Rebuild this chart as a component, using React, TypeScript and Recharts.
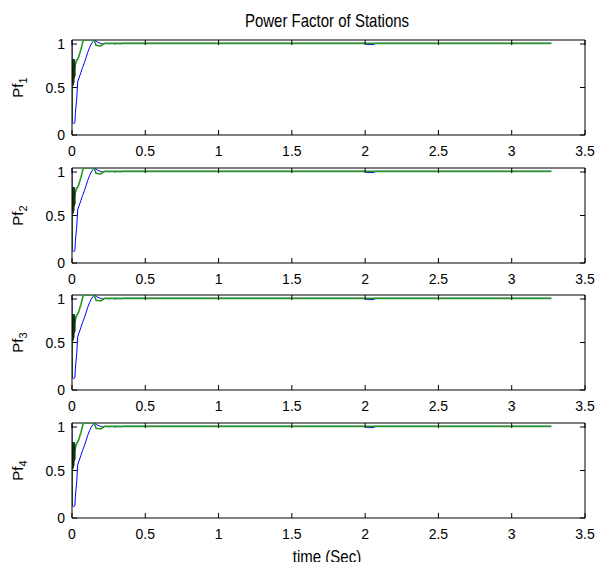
import { LineChart, Line, XAxis, YAxis, ReferenceLine } from 'recharts'

// time axis (sec) and power factor samples
const blueTime = [0, 0.004, 0.012, 0.02, 0.023, 0.032, 0.039, 0.05, 0.061, 0.072, 0.084, 0.095, 0.107, 0.12, 0.13, 0.142, 0.152, 0.164, 0.176, 0.186, 0.2, 0.215, 0.23, 0.25, 0.27, 0.3, 0.31, 0.33, 0.35, 2.0, 2.01, 2.06, 2.07, 3.27]
const bluePf = [1, 0.13, 0.12, 0.13, 0.23, 0.38, 0.56, 0.61, 0.66, 0.71, 0.76, 0.81, 0.87, 0.92, 0.955, 0.98, 1.0, 0.99, 0.975, 0.97, 0.962, 0.958, 0.965, 0.96, 0.965, 0.958, 0.965, 0.96, 0.965, 0.965, 0.952, 0.952, 0.965, 0.965]

const greenTime = [0, 0.002, 0.005, 0.008, 0.011, 0.014, 0.017, 0.02, 0.024, 0.027, 0.033, 0.039, 0.045, 0.053, 0.061, 0.069, 0.077, 0.152, 0.164, 0.18, 0.2, 0.22, 3.27]
const greenPf = [0.12, 0.55, 0.78, 0.6, 0.8, 0.65, 0.75, 0.7, 0.78, 0.76, 0.79, 0.8, 0.82, 0.86, 0.9, 0.95, 1.0, 1.0, 0.945, 0.94, 0.94, 0.965, 0.965]

const darkTime = [0.004, 0.006, 0.008, 0.01, 0.012, 0.014, 0.016, 0.018, 0.02]
const darkPf = [0.55, 0.8, 0.52, 0.78, 0.55, 0.8, 0.6, 0.76, 0.62]

const stations = ['1', '2', '3', '4']
const xTicks = [0, 0.5, 1, 1.5, 2, 2.5, 3, 3.5]
const yTicks = [0, 0.5, 1]

const zip = (ts: number[], vs: number[]) => ts.map((t, i) => ({ t, v: vs[i] }))
const blueData = zip(blueTime, bluePf)
const greenData = zip(greenTime, greenPf)
const darkData = zip(darkTime, darkPf)

const FONT = 'Liberation Sans, Arial, sans-serif'
const plotTops = [40, 168, 295, 423]
const PLOT_H = 95
const PLOT_L = 72
const PLOT_R = 585
const TICK = 5

// matlab style: inward ticks on both sides of the box
function XTick({ x, y, payload }: any) {
    return (
        <g>
            <line x1={x} y1={y} x2={x} y2={y - TICK} stroke="#000" />
            <line x1={x} y1={y - PLOT_H} x2={x} y2={y - PLOT_H + TICK} stroke="#000" />
            <text x={x} y={y + 21} textAnchor="middle" fontFamily={FONT} fontSize={14} fill="#000">
                {payload.value}
            </text>
        </g>
    )
}

function YTick({ x, y, payload }: any) {
    return (
        <g>
            <line x1={PLOT_L} y1={y} x2={PLOT_L + TICK} y2={y} stroke="#000" />
            <line x1={PLOT_R} y1={y} x2={PLOT_R - TICK} y2={y} stroke="#000" />
            <text x={x - 7} y={y + 5} textAnchor="end" fontFamily={FONT} fontSize={14} fill="#000">
                {payload.value}
            </text>
        </g>
    )
}

function PfLabel({ viewBox, n }: any) {
    const cx = 23
    const cy = viewBox.y + viewBox.height / 2
    return (
        <text x={cx} y={cy} transform={`rotate(-90, ${cx}, ${cy})`} textAnchor="middle"
            fontFamily={FONT} fontSize={15} fill="#000">
            Pf<tspan fontSize={11} dy={4}>{n}</tspan>
        </text>
    )
}

function Station({ n, top }: { n: string; top: number }) {
    return (
        <div style={{ position: 'absolute', left: 0, top: top - 5 }}>
            <LineChart width={595} height={125} margin={{ top: 5, right: 10, bottom: 0, left: 0 }}>
                <XAxis dataKey="t" type="number" domain={[0, 3.5]} ticks={xTicks} allowDataOverflow
                    height={25} tickSize={0} tickMargin={0} tickLine={false} stroke="#000"
                    tick={<XTick />} />
                <YAxis type="number" domain={[0, 1]} ticks={yTicks} allowDataOverflow width={72}
                    tickSize={0} tickMargin={0} tickLine={false} stroke="#000"
                    tick={<YTick />}
                    label={{ content: (props: any) => <PfLabel {...props} n={n} /> }} />
                <ReferenceLine y={1} stroke="#000" strokeWidth={1} ifOverflow="visible" />
                <ReferenceLine x={3.5} stroke="#000" strokeWidth={1} ifOverflow="visible" />
                <Line data={blueData} dataKey="v" stroke="#0000ff" strokeWidth={1} dot={false} isAnimationActive={false} />
                <Line data={greenData} dataKey="v" stroke="#2a962a" strokeWidth={1.6} dot={false} isAnimationActive={false} />
                <Line data={darkData} dataKey="v" stroke="#103010" strokeWidth={1.5} dot={false} isAnimationActive={false} />
            </LineChart>
        </div>
    )
}

export default function App() {
    return (
        <div style={{ position: 'absolute', left: 0, top: 0, width: 595, height: 562, background: '#fff', overflow: 'hidden' }}>
            {stations.map((n, i) => (
                <Station key={n} n={n} top={plotTops[i]} />
            ))}
            <svg width={595} height={562} style={{ position: 'absolute', left: 0, top: 0, pointerEvents: 'none' }}>
                <text transform="translate(327, 27) scale(1, 1.25)" textAnchor="middle" fontFamily={FONT} fontSize={15} fill="#000">
                    Power Factor of Stations
                </text>
                <text transform="translate(327, 563) scale(1, 1.25)" textAnchor="middle" fontFamily={FONT} fontSize={15} fill="#000">
                    time (Sec)
                </text>
            </svg>
        </div>
    )
}
